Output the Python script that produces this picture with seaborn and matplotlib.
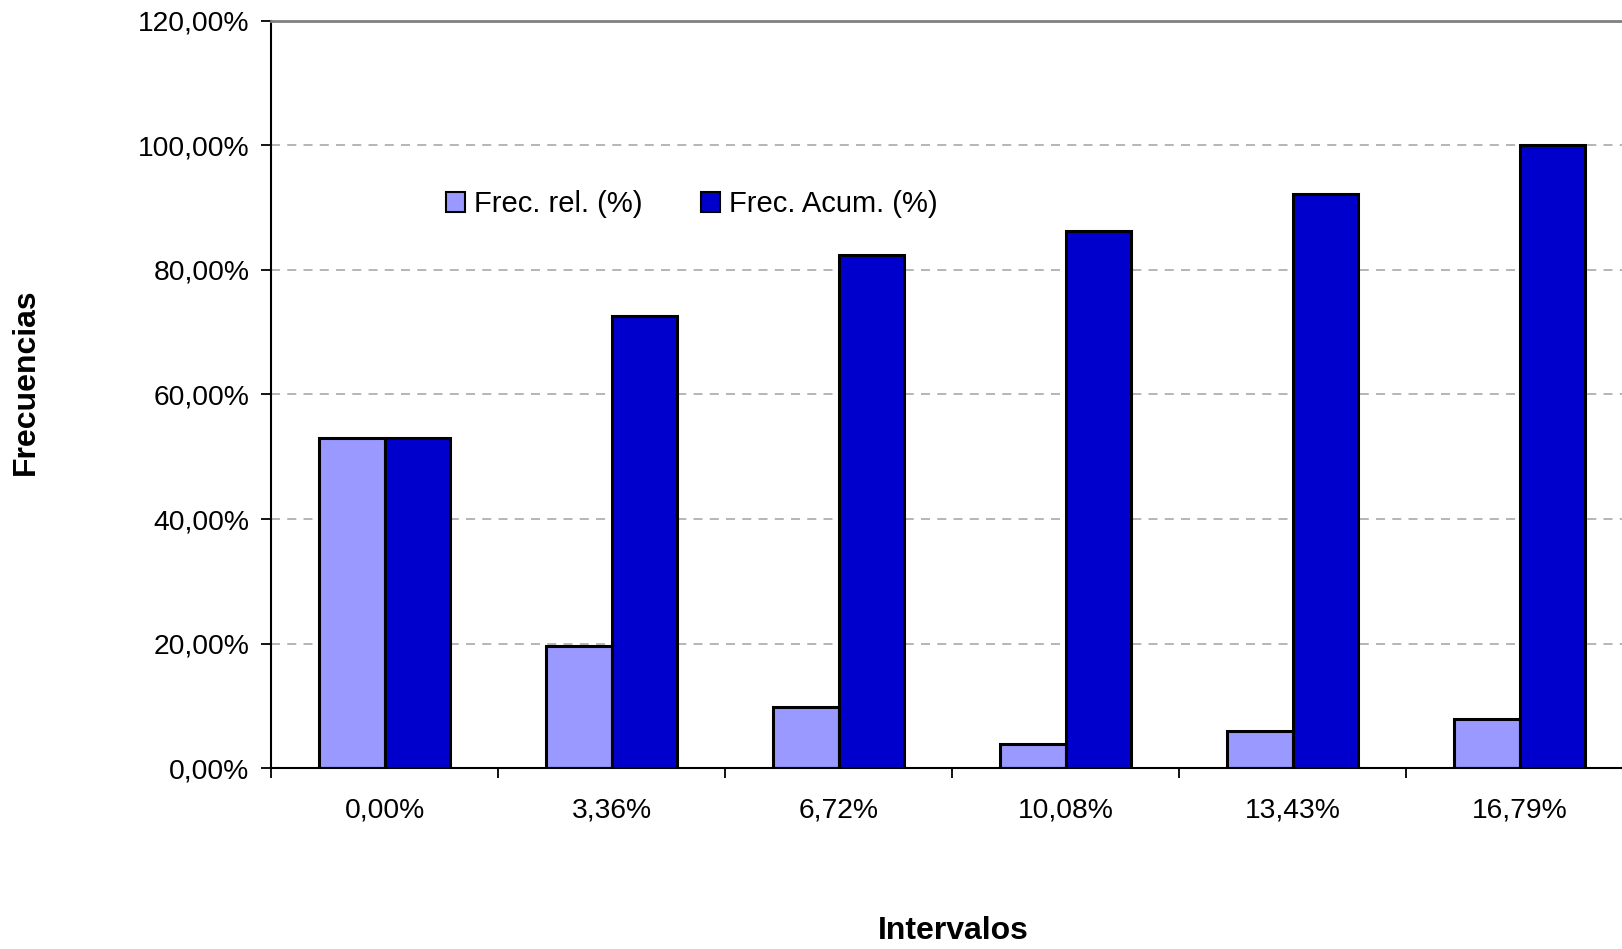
import pandas as pd
import numpy as np
import matplotlib
matplotlib.use("Agg")
import matplotlib.pyplot as plt
import seaborn as sns
from matplotlib.ticker import FuncFormatter, FixedLocator

# datos
intervalos = ["0,00%", "3,36%", "6,72%", "10,08%", "13,43%", "16,79%"]
frec_rel = [52.94, 19.61, 9.80, 3.92, 5.88, 7.84]
frec_acum = [52.94, 72.55, 82.35, 86.27, 92.16, 100.00]
series = ["Frec. rel. (%)", "Frec. Acum. (%)"]
colores = ["#9999FF", "#0000CC"]

df = pd.DataFrame({
    "Intervalos": intervalos * 2,
    "valor": frec_rel + frec_acum,
    "serie": [series[0]] * len(intervalos) + [series[1]] * len(intervalos),
})

sns.set_style("white")
plt.rcParams["font.family"] = ["Liberation Sans", "DejaVu Sans"]
plt.rcParams["text.color"] = "black"
plt.rcParams["xtick.color"] = "black"
plt.rcParams["ytick.color"] = "black"

fig = plt.figure(figsize=(16.22, 9.49), dpi=100)
ax = fig.add_axes([0.1671, 0.1907, 0.8397, 0.7872])

sns.barplot(data=df, x="Intervalos", y="valor", hue="serie", order=intervalos,
            hue_order=series, palette=colores, width=0.575, gap=0,
            edgecolor="black", linewidth=2.2, saturation=1, ax=ax)

ax.set_ylim(0, 120)
ax.set_xlim(-0.5, len(intervalos) - 0.5)
ax.set_yticks(np.arange(0, 121, 20))
ax.yaxis.set_major_formatter(FuncFormatter(lambda v, p: f"{v:.2f}%".replace(".", ",")))
for yv in range(20, 101, 20):
    ax.axhline(yv, color="#B0B0B0", linestyle=(0, (5, 4)), linewidth=1.3, zorder=0)

# ticks en los limites entre categorias
ax.xaxis.set_minor_locator(FixedLocator(np.arange(-0.5, len(intervalos), 1.0)))
ax.tick_params(axis="x", which="major", length=0, pad=21, labelsize=20.3)
ax.tick_params(axis="x", which="minor", length=7, width=1.3, color="black", direction="out", bottom=True)
ax.tick_params(axis="y", which="major", length=7, width=1.3, color="black", direction="out", left=True, pad=8.5, labelsize=20.3)

for s in ["left", "bottom"]:
    ax.spines[s].set_color("black")
    ax.spines[s].set_linewidth(1.5)
ax.spines["top"].set_color("#808080")
ax.spines["top"].set_linewidth(2)
ax.spines["right"].set_visible(False)

ax.set_xlabel("")
ax.set_ylabel("")
fig.text(0.588, 0.019, "Intervalos", ha="center", va="center", fontsize=23, fontweight="bold")
fig.text(0.016, 0.598, "Frecuencias", ha="center", va="center", rotation=90, fontsize=23, fontweight="bold")

leg = ax.legend(loc="center left", bbox_to_anchor=(0.259, 0.785), bbox_transform=fig.transFigure,
                ncol=2, frameon=False, fontsize=21, handlelength=0.65, handleheight=0.65,
                handletextpad=0.3, columnspacing=2.0)
for h in leg.legend_handles:
    h.set_edgecolor("black")
    h.set_linewidth(1.5)

fig.savefig("out.png", dpi=100)
